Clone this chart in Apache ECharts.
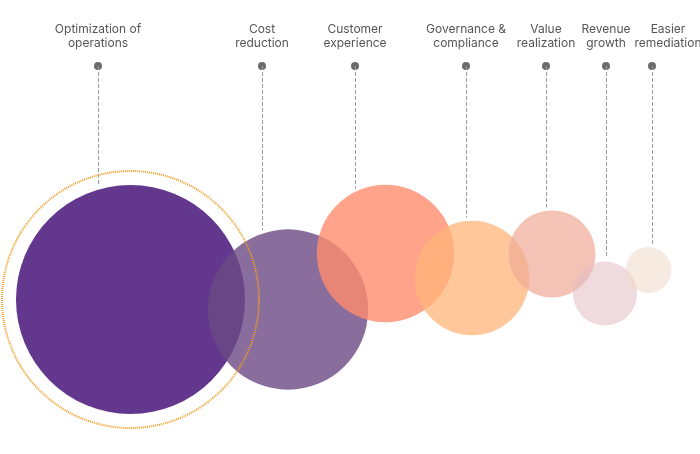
<!DOCTYPE html>
<html>
<head>
<meta charset="utf-8">
<script src="https://cdn.jsdelivr.net/npm/echarts@6/dist/echarts.min.js"></script>
<style>
html,body{margin:0;padding:0;background:#fff;}
#chart{width:700px;height:454px;}
</style>
</head>
<body>
<div id="chart"></div>
<script>
// Data
const categories = ["Optimization of\noperations", "Cost\nreduction", "Customer\nexperience", "Governance &\ncompliance", "Value\nrealization", "Revenue\ngrowth", "Easier\nremediation"];
const bubbleValue = [100, 70, 60, 50, 38, 28, 20];
const bubbleX = [130.5, 288, 385.5, 472, 552, 605, 648.5];
const bubbleY = [299.5, 309.5, 253.5, 278, 254, 293.5, 270];
const labelX = [98, 262, 355, 466, 546, 606, 652];
const highlighted = [0];

// Styles
const colors = ['#62378D', 'rgba(107,74,133,0.8)', 'rgba(255,140,110,0.8)', 'rgba(255,180,120,0.75)', 'rgba(240,170,150,0.7)', 'rgba(225,190,195,0.55)', 'rgba(240,215,195,0.5)'];
const labelShift = [0, 0, 0, 0, 0, 0, 16];
const SIZE_K = 2.29;
const DOT_Y = 66;
const GAP = 3.5;

const sizeOf = v => v * SIZE_K;
const endY = i => {
  const r = sizeOf(bubbleValue[i]) / 2;
  const dx = labelX[i] - bubbleX[i];
  return bubbleY[i] - Math.sqrt(Math.max(r * r - dx * dx, 0)) - GAP;
};

const chart = echarts.init(document.getElementById('chart'));
chart.setOption({
  animation: false,
  grid: {left: 0, right: 0, top: 0, bottom: 0},
  xAxis: {type: 'value', min: 0, max: 700, show: false},
  yAxis: {type: 'value', min: 0, max: 454, inverse: true, show: false},
  series: [
    {
      type: 'scatter',
      z: 2,
      silent: true,
      data: categories.map((c, i) => ({
        name: c,
        value: [bubbleX[i], bubbleY[i], bubbleValue[i]],
        itemStyle: {color: colors[i], opacity: 1}
      })),
      symbolSize: d => sizeOf(d[2]),
      emphasis: {disabled: true}
    },
    {
      type: 'scatter',
      z: 3,
      silent: true,
      data: highlighted.map(i => [bubbleX[i], bubbleY[i], bubbleValue[i]]),
      symbolSize: d => sizeOf(d[2]) + 28,
      itemStyle: {color: 'rgba(0,0,0,0)', borderColor: '#F29B22', borderWidth: 2, borderType: [1, 1], opacity: 1},
      emphasis: {disabled: true}
    },
    {
      type: 'scatter',
      z: 4,
      silent: true,
      data: categories.map((c, i) => ({
        name: c,
        value: [labelX[i], DOT_Y],
        label: {offset: [labelShift[i], 0]}
      })),
      symbolSize: 8,
      itemStyle: {color: '#6b6b6b', opacity: 1},
      label: {
        show: true,
        position: 'top',
        distance: 12,
        formatter: p => p.name,
        color: '#555',
        fontFamily: 'Inter',
        fontSize: 12,
        lineHeight: 14,
        align: 'center'
      },
      markLine: {
        silent: true,
        symbol: ['none', 'none'],
        label: {show: false},
        lineStyle: {type: 'dashed', color: '#9a9a9a', width: 1},
        data: categories.map((c, i) => [{coord: [labelX[i], DOT_Y]}, {coord: [labelX[i], endY(i)]}])
      },
      emphasis: {disabled: true}
    }
  ]
});
</script>
</body>
</html>
